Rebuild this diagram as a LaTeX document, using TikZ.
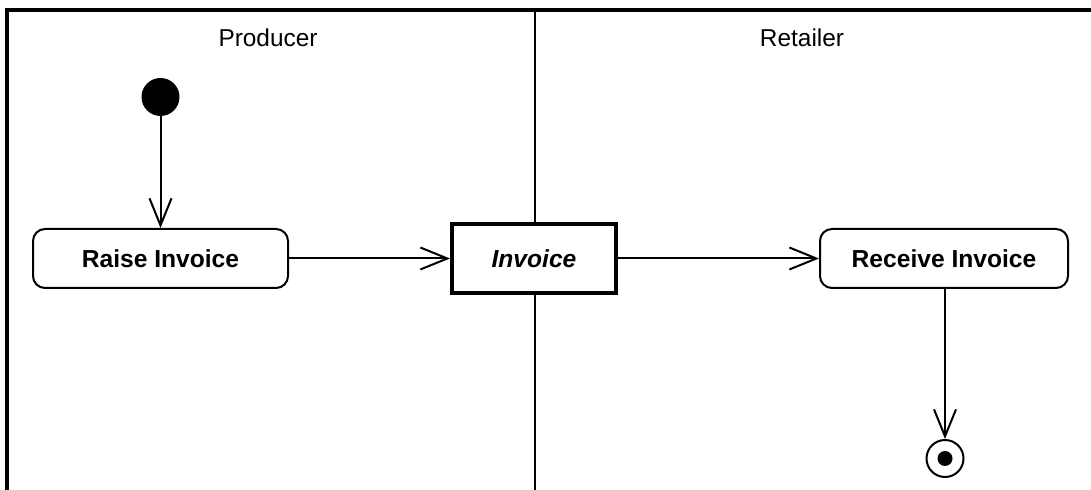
\documentclass[tikz,border=0pt]{standalone}
\usepackage{fontspec}
\setmainfont{Liberation Sans}
\usepackage{tikz}
\usetikzlibrary{arrows.meta,positioning,shapes}

\begin{document}
\begin{tikzpicture}[x=0.5pt,y=-0.5pt,
		lane/.style={font=\fontsize{12.2}{14}\selectfont},
		action/.style={draw,rounded corners=6pt,line width=1pt,fill=white,
			font=\fontsize{12.3}{14}\selectfont\bfseries,minimum height=29.5pt},
		object/.style={draw,line width=2pt,fill=white,minimum width=82pt,minimum height=34.5pt,
			font=\fontsize{12.3}{14}\selectfont\bfseries\itshape},
		flow/.style={-{Straight Barb[length=13.5pt,width=11pt]},line width=1pt}]
			\useasboundingbox (0,0) rectangle (1091,490);
			% Draw swimlane frame
			\draw[line width=1.6pt] (7,490) -- (7,10) -- (1091,10);
			\draw[line width=0.9pt] (535,10) -- (535,490);
			% Lane titles
			\node[lane] (producer) at (268,38) {Producer};
			\node[lane] (retailer) at (802,38) {Retailer};
			% Initial and final states
			\node[circle,fill=black,minimum size=19pt,inner sep=0pt] (start) at (160.5,97) {};
			\node[circle,draw,line width=1pt,minimum size=18.5pt,inner sep=0pt,
				path picture={\fill (path picture bounding box.center) circle (3.75pt);}] (stop) at (945,458.5) {};
			% Actions and object
			\node[action,minimum width=127.5pt] (raise) at (160.5,258.5) {Raise Invoice};
			\node[object] (invoice) at (534,258.5) {Invoice};
			\node[action,minimum width=124pt] (receive) at (944,258.5) {Receive Invoice};
			% Flows
			\draw[flow] (start) -- (raise);
			\draw[flow] (raise) -- (invoice);
			\draw[flow] (invoice) -- (receive);
			\draw[flow] (receive.south -| stop) -- (stop);
		\end{tikzpicture}
\end{document}
